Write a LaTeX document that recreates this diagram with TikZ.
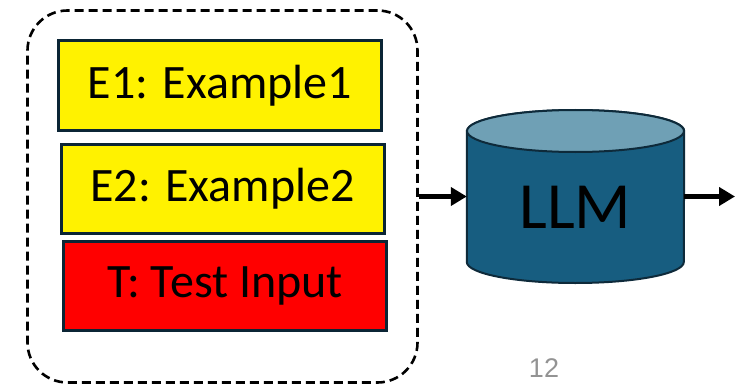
\documentclass[tikz,border=0pt]{standalone}
\usepackage{fontspec}
\setmainfont{Carlito}
\newfontfamily\numfont{Liberation Sans}
\usetikzlibrary{arrows.meta}
\definecolor{boxborder}{HTML}{0B2535}
\definecolor{cylbody}{HTML}{175D80}
\definecolor{cyltop}{HTML}{6FA0B5}
\definecolor{cylline}{HTML}{0E2A3A}
\tikzset{
  inbox/.style={draw=boxborder, line width=3pt, minimum width=323pt, minimum height=89pt, inner sep=0pt, font=\fontsize{48}{52}\selectfont},
  flow/.style={line width=4.5pt, -{Triangle[length=16pt,width=18pt]}},
}
\begin{document}
\begin{tikzpicture}[x=1pt,y=-1pt]
\useasboundingbox (0,0) rectangle (735,385);
% dashed group
\node[draw, line width=2.6pt, dash pattern=on 9pt off 5pt, rounded corners=40pt,
      minimum width=390pt, minimum height=372pt, inner sep=0pt] (grp) at (222.5,196.5) {};
\node[inbox, fill=yellow] (e1) at (220,85.5) {E1: Example1};
\node[inbox, fill=yellow] (e2) at (222.5,189) {E2: Example2};
\node[inbox, fill=red] (t) at (225,286) {T: Test Input};
% cylinder
\node[minimum width=217pt, minimum height=173pt, inner sep=0pt] (llm) at (575.5,196.5) {};
\fill[cylbody, draw=cylline, line width=2pt]
  (llm.west |- 0,131) -- (llm.west |- 0,262) arc[start angle=180, end angle=0, x radius=108.5, y radius=21]
  -- (llm.east |- 0,131) arc[start angle=0, end angle=-180, x radius=108.5, y radius=21] -- cycle;
\filldraw[fill=cyltop, draw=cylline, line width=2pt] (575.5,131) ellipse[x radius=108.5, y radius=21];
\node[anchor=base, font=\fontsize{66}{70}\selectfont, inner sep=0pt] (llmtext) at (575.5,228) {LLM};
% arrows
\coordinate (out) at (735,196.5);
\draw[flow] (grp.east |- llm.west) -- (llm.west);
\draw[flow] (llm.east) -- (out);
% page number
\node[text=gray!85, font=\numfont\fontsize{27}{29}\selectfont, anchor=base, inner sep=0pt] (pg) at (544,377) {12};
\end{tikzpicture}
\end{document}
